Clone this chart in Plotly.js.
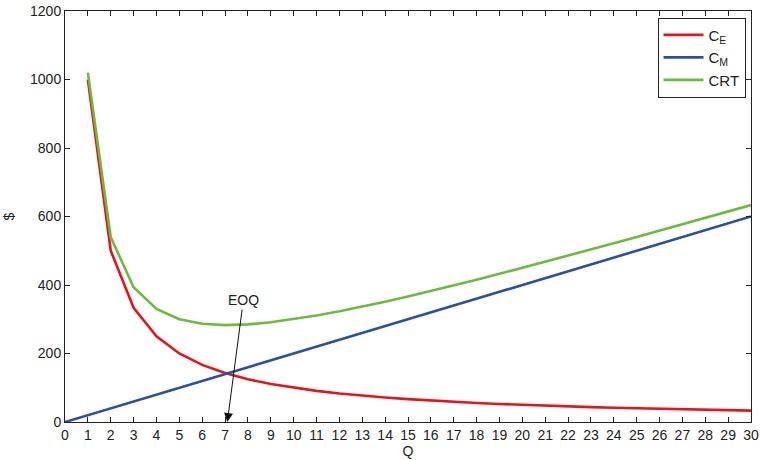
<!DOCTYPE html>
<html><head><meta charset="utf-8">
<script src="https://cdn.plot.ly/plotly-3.0.1.min.js"></script>
<style>html,body{margin:0;padding:0;background:#fff}</style>
</head><body>
<div id="chart" style="width:760px;height:460px"></div>
<script>
var qE = [1,2,3,4,5,6,7,8,9,10,11,12,13,14,15,16,17,18,19,20,21,22,23,24,25,26,27,28,29,30];
var costE = [1000,500,333.3,250,200,166.7,142.9,125,111.1,100,90.9,83.3,76.9,71.4,66.7,62.5,58.8,55.6,52.6,50,47.6,45.5,43.5,41.7,40,38.5,37,35.7,34.5,33.3];
var qM = [0,1,2,3,4,5,6,7,8,9,10,11,12,13,14,15,16,17,18,19,20,21,22,23,24,25,26,27,28,29,30];
var costM = [0,20,40,60,80,100,120,140,160,180,200,220,240,260,280,300,320,340,360,380,400,420,440,460,480,500,520,540,560,580,600];
var costRT = [1020,540,393.3,330,300,286.7,282.9,285,291.1,300,310.9,323.3,336.9,351.4,366.7,382.5,398.8,415.6,432.6,450,467.6,485.5,503.5,521.7,540,558.5,577,595.7,614.5,633.3];
var xTicks = [0,1,2,3,4,5,6,7,8,9,10,11,12,13,14,15,16,17,18,19,20,21,22,23,24,25,26,27,28,29,30];
var yTicks = [0,200,400,600,800,1000,1200];
var eoqLabel = 'EOQ';

var traces = [
  {x:qE, y:costE, name:'C<sub>E</sub>', mode:'lines', line:{color:'#e8141c', width:2.6}},
  {x:qM, y:costM, name:'C<sub>M</sub>', mode:'lines', line:{color:'#2b4fa3', width:2.6}},
  {x:qE, y:costRT, name:'CRT', mode:'lines', line:{color:'#6cbb3c', width:2.6}}
];
var axFont = {family:'Liberation Sans, Arial, sans-serif', size:14, color:'#222'};
var layout = {
  width:760, height:460,
  margin:{l:65, r:9, t:11, b:38},
  paper_bgcolor:'#fff', plot_bgcolor:'#fff',
  font:axFont,
  showlegend:true,
  legend:{x:0.992, xanchor:'right', y:0.984, yanchor:'top', bordercolor:'#222', borderwidth:1, bgcolor:'#fff',
          font:{family:'Liberation Sans, Arial, sans-serif', size:15, color:'#222'}, tracegroupgap:0, itemwidth:40},
  xaxis:{range:[0,30], tickvals:xTicks, ticktext:xTicks.map(String), ticks:'inside', ticklen:5, tickcolor:'#222',
         showline:true, linecolor:'#222', linewidth:1, mirror:'ticks', showgrid:false, zeroline:false,
         title:{text:'Q', font:axFont, standoff:1}, tickfont:axFont},
  yaxis:{range:[0,1200], tickvals:yTicks, ticktext:yTicks.map(String), ticks:'inside', ticklen:5, tickcolor:'#222',
         showline:true, linecolor:'#222', linewidth:1, mirror:'ticks', showgrid:false, zeroline:false,
         title:{text:'$', font:axFont, standoff:12}, tickfont:axFont},
  annotations:[{x:7.1, y:0, xref:'x', yref:'y', ax:7.8, ay:356, axref:'x', ayref:'y', text:eoqLabel,
    showarrow:true, arrowhead:2, arrowsize:1.8, arrowwidth:1, arrowcolor:'#111', font:axFont}]
};
Plotly.newPlot('chart', traces, layout, {displayModeBar:false, staticPlot:true});
</script>
</body></html>
